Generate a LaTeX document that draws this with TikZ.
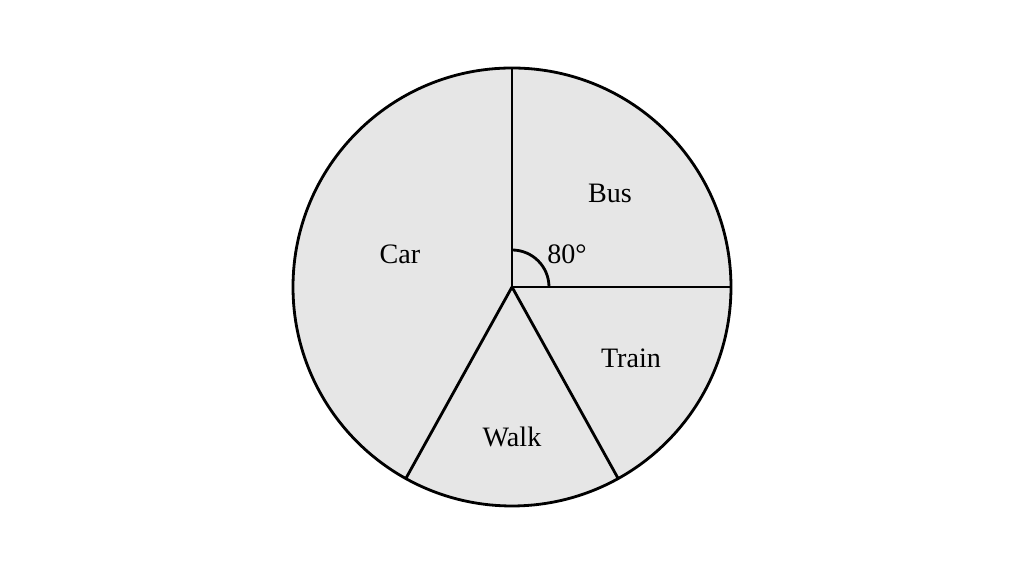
\documentclass[tikz,border=0pt]{standalone}
\usepackage{fontspec}
\setmainfont{Liberation Serif}
\usetikzlibrary{calc}
\usetikzlibrary{positioning}
\definecolor{slicegray}{HTML}{E6E6E6}
\tikzset{
  slice/.style={draw=black, line width=0.8pt, fill=slicegray},
  lbl/.style={font=\fontsize{8}{9}\selectfont}
}
\begin{document}
\begin{tikzpicture}
  \useasboundingbox (0,0) rectangle (10.24,5.72);
  % Pie
  \coordinate (o) at (5.12,2.85);
  \draw[slice] (o) circle (2.19);
  % Slice boundaries
  \draw[line width=0.8pt] (o) -- ++(90:2.19);
  \draw[line width=0.8pt] (o) -- ++(0:2.19);
  \draw[line width=0.8pt] (o) -- ++(-61:2.19);
  \draw[line width=0.8pt] (o) -- ++(-119:2.19);
  % Angle marker
  \draw[line width=0.8pt] ($(o)+(0:0.37)$) arc (0:90:0.37);
  % Labels
  \node[lbl] (bus) at (6.10,3.79) {Bus};
  \node[lbl] (car) at (4.00,3.18) {Car};
  \node[lbl] (train) at (6.31,2.14) {Train};
  \node[lbl] (walk) at (5.12,1.35) {Walk};
  \node[lbl] (ang) at (5.67,3.18) {80°};
\end{tikzpicture}
\end{document}
